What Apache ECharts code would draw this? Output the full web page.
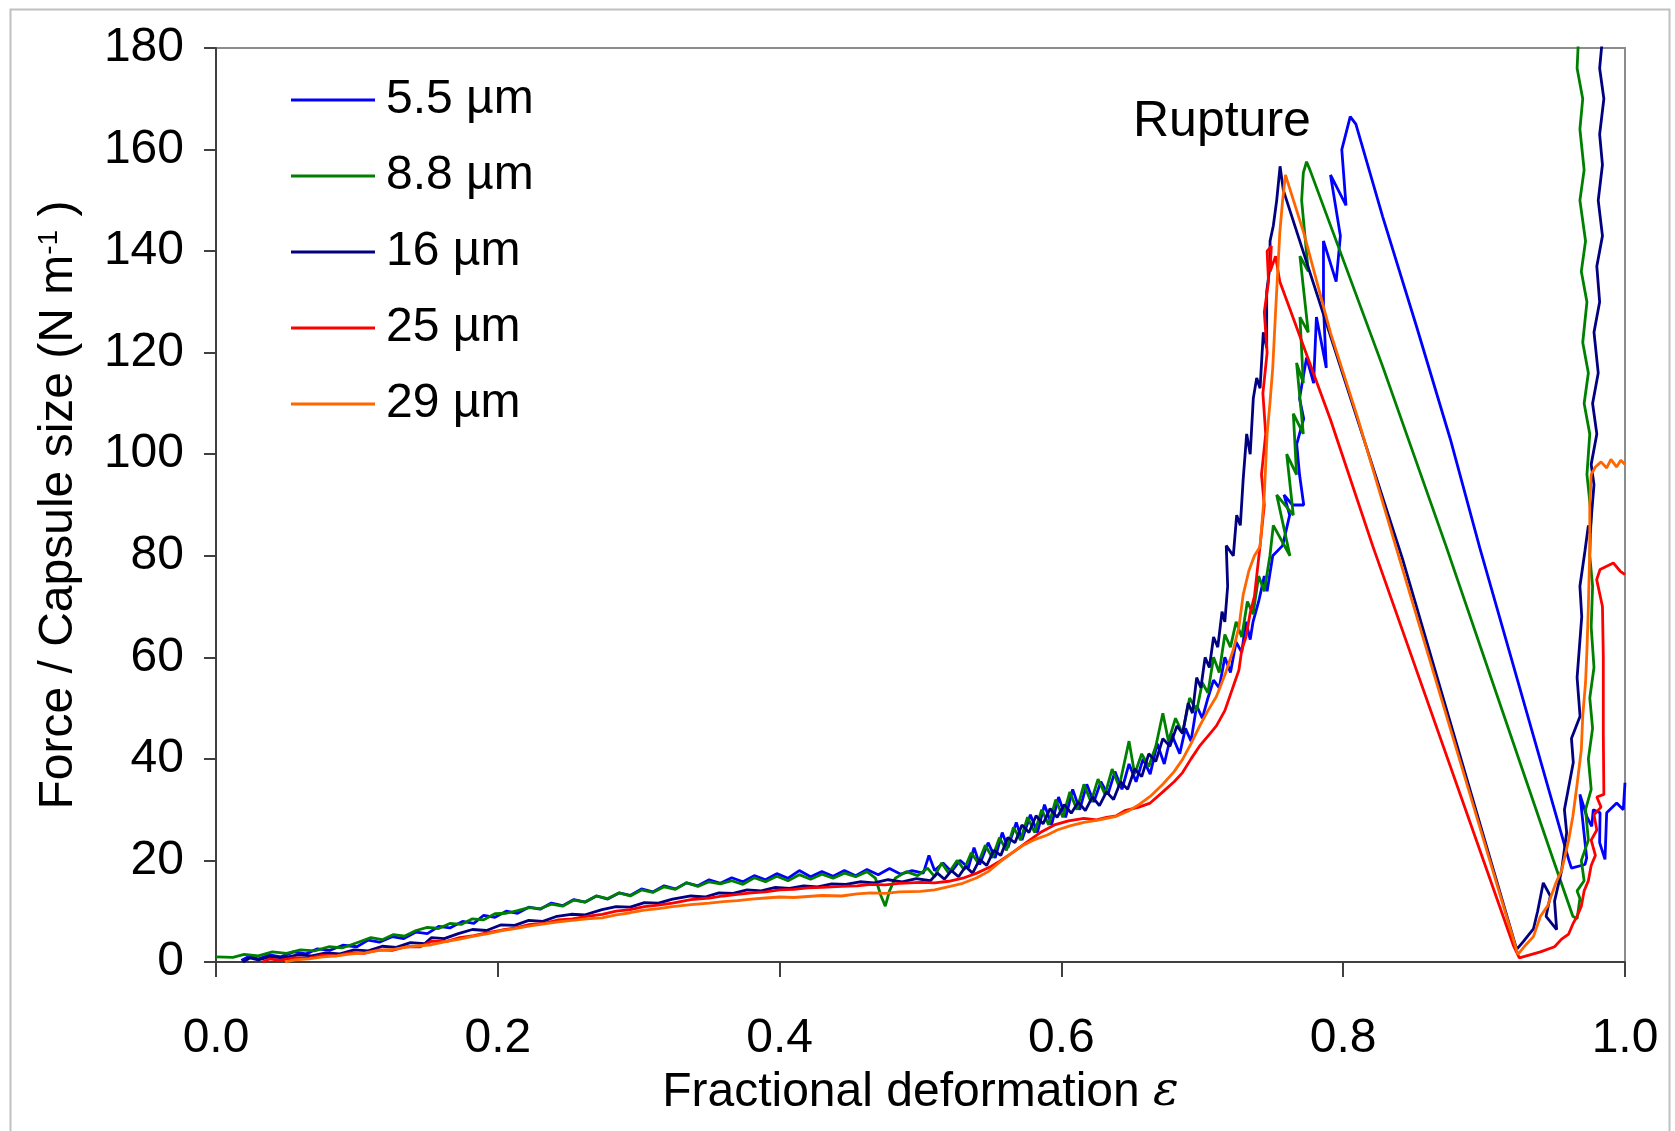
<!DOCTYPE html>
<html>
<head>
<meta charset="utf-8">
<script src="https://cdn.jsdelivr.net/npm/echarts@6/dist/echarts.min.js"></script>
<style>
html,body{margin:0;padding:0;background:#fff;}
#chart{width:1675px;height:1131px;}
</style>
</head>
<body>
<div id="chart"></div>
<script>
const seriesNames = ['5.5 µm', '8.8 µm', '16 µm', '25 µm', '29 µm'];
const seriesColors = ['#0000ff', '#008000', '#000080', '#ff0000', '#ff6600'];

const d55 = [
[0.018,0.3],[0.024,1.2],[0.03,0.6],[0.038,1.4],[0.046,1.0],[0.055,2.0],[0.064,1.6],[0.072,2.6],[0.081,2.3],[0.09,3.3],[0.1,3.0],[0.108,4.3],[0.116,3.9],[0.125,5.0],[0.133,4.6],[0.142,5.9],[0.15,5.6],[0.158,7.0],[0.166,6.7],[0.175,8.0],[0.183,7.6],[0.19,9.2],[0.198,8.8],[0.206,10.0],[0.214,9.6],[0.222,10.8],[0.23,10.4],[0.238,11.6],[0.246,11.1],[0.254,12.3],[0.262,11.8],[0.27,13.0],[0.278,12.4],[0.286,13.6],[0.294,13.1],[0.302,14.4],[0.31,13.8],[0.318,15.0],[0.326,14.4],[0.334,15.6],[0.342,15.0],[0.35,16.2],[0.358,15.5],[0.366,16.6],[0.374,15.8],[0.382,17.0],[0.39,16.2],[0.398,17.4],[0.406,16.5],[0.414,18.0],[0.422,16.8],[0.43,17.8],[0.438,16.9],[0.446,18.0],[0.454,17.0],[0.462,18.2],[0.47,17.2],[0.478,18.4],[0.486,17.3],[0.494,18.0],[0.502,17.5],[0.506,21],[0.51,18],[0.516,19.5],[0.522,17.8],[0.528,20],[0.534,18.6],[0.538,22.5],[0.542,19.2],[0.548,23.5],[0.553,20.5],[0.558,25.5],[0.562,22.5],[0.568,27.5],[0.572,24.0],[0.578,29.0],[0.583,25.5],[0.588,31.0],[0.593,27.0],[0.598,32.5],[0.603,28.5],[0.608,34.0],[0.613,30.0],[0.618,35.0],[0.623,31.5],[0.628,35.5],[0.633,33.0],[0.638,37.5],[0.643,34.0],[0.648,39.0],[0.653,35.5],[0.658,40.0],[0.663,37.0],[0.668,43.0],[0.673,39.0],[0.678,45.0],[0.684,41.0],[0.688,46.0],[0.692,43.5],[0.696,50.5],[0.7,48.0],[0.704,52.0],[0.708,55.5],[0.712,54.0],[0.716,60.0],[0.72,57.0],[0.724,63.0],[0.728,61.0],[0.731,67.0],[0.734,63.5],[0.736,67.0],[0.74,71],[0.744,76],[0.746,73],[0.75,80],[0.757,82],[0.762,88],[0.758,92],[0.764,90],[0.772,90],[0.769,96],[0.767,102],[0.772,107],[0.769,111],[0.774,119],[0.779,114],[0.781,127],[0.788,117],[0.786,129],[0.786,142],[0.795,134],[0.798,143],[0.791,155],[0.802,149],[0.799,160],[0.805,166.5],[0.809,165],[0.828,146.8],[0.852,125.2],[0.876,103],[0.897,81.5],[0.96,20.2],[0.962,18.5],[0.9716,19.2],[0.9728,20.5],[0.968,33],[0.9728,28.7],[0.9764,26.7],[0.9775,30],[0.9823,29.4],[0.982,23.5],[0.9858,20.2],[0.987,29.4],[0.9941,31.3],[0.9988,30],[1.0,35.3]
];

const d88 = [
[0,1.0],[0.012,0.9],[0.02,1.5],[0.03,1.2],[0.04,2.0],[0.05,1.7],[0.06,2.4],[0.07,2.2],[0.08,3.0],[0.09,2.8],[0.1,3.8],[0.11,4.8],[0.118,4.4],[0.126,5.4],[0.134,5.1],[0.142,6.2],[0.15,6.8],[0.158,6.6],[0.166,7.6],[0.174,7.4],[0.182,8.5],[0.19,8.3],[0.198,9.5],[0.206,9.6],[0.214,10.1],[0.222,10.7],[0.23,10.5],[0.238,11.4],[0.246,11.0],[0.254,12.2],[0.262,11.8],[0.27,13.0],[0.278,12.5],[0.286,13.6],[0.294,13.0],[0.302,14.2],[0.31,13.7],[0.318,14.8],[0.326,14.3],[0.334,15.6],[0.342,14.9],[0.35,15.8],[0.358,15.4],[0.366,16.0],[0.374,15.3],[0.382,16.6],[0.39,15.8],[0.398,16.9],[0.406,16.0],[0.414,17.2],[0.422,16.3],[0.43,17.3],[0.438,16.5],[0.446,17.5],[0.454,16.8],[0.462,17.8],[0.468,16.5],[0.472,13],[0.475,11],[0.478,14],[0.482,16.5],[0.49,17.8],[0.498,17.0],[0.505,18.5],[0.51,16.8],[0.515,19.5],[0.52,17.5],[0.526,20],[0.531,18.2],[0.536,21.5],[0.541,19.5],[0.546,23],[0.551,20.5],[0.556,24.5],[0.561,22],[0.566,26.5],[0.571,24],[0.576,28.5],[0.581,25.5],[0.586,30],[0.591,27],[0.596,32],[0.601,28.5],[0.606,33.5],[0.611,30],[0.616,35],[0.621,31.5],[0.626,36],[0.631,33],[0.636,38],[0.641,34.5],[0.648,43.5],[0.652,37],[0.657,41],[0.662,38.5],[0.667,42.5],[0.672,49],[0.676,43.5],[0.681,48],[0.686,45],[0.691,52],[0.696,49.5],[0.7,55],[0.704,53],[0.708,60],[0.712,57],[0.716,64.5],[0.72,62],[0.724,67],[0.728,64],[0.732,71],[0.736,68.5],[0.74,76],[0.744,73],[0.748,80],[0.7504,86],[0.7622,80],[0.7528,92],[0.7646,88],[0.7599,100],[0.7669,96],[0.7646,108],[0.7717,104],[0.7669,118],[0.7717,114],[0.7693,127],[0.7752,124],[0.7693,139],[0.7752,136],[0.7705,150],[0.7717,155.4],[0.774,157.6],[0.7764,156],[0.828,117.3],[0.873,81.9],[0.949,20.2],[0.963,9],[0.966,8.5],[0.968,12.5],[0.966,14],[0.971,16],[0.969,20],[0.974,24],[0.972,30],[0.976,34],[0.974,40],[0.977,46],[0.975,52],[0.978,58],[0.976,66],[0.977,74],[0.975,80],[0.976,88],[0.973,96],[0.975,104],[0.971,110],[0.974,116],[0.97,122],[0.973,130],[0.969,136],[0.972,142],[0.968,150],[0.971,156],[0.968,164],[0.97,170],[0.966,176],[0.967,182]
];

const d16 = [
[0.019,0],[0.024,0.8],[0.03,0.4],[0.038,1.0],[0.048,0.8],[0.058,1.4],[0.068,1.2],[0.078,1.8],[0.088,1.6],[0.098,2.4],[0.108,2.2],[0.118,3.1],[0.128,2.9],[0.138,3.8],[0.148,3.6],[0.153,4.8],[0.162,4.6],[0.172,5.6],[0.182,6.4],[0.192,6.2],[0.202,7.3],[0.212,7.2],[0.222,8.2],[0.232,8.0],[0.242,9.0],[0.252,9.4],[0.262,9.3],[0.274,10.3],[0.284,10.9],[0.294,10.8],[0.304,11.7],[0.314,11.6],[0.324,12.4],[0.337,13.0],[0.347,12.8],[0.357,13.6],[0.367,13.5],[0.377,14.2],[0.387,14.0],[0.397,14.7],[0.407,14.5],[0.417,15.0],[0.427,14.8],[0.437,15.4],[0.447,15.3],[0.457,15.8],[0.467,15.6],[0.477,16.2],[0.487,15.8],[0.497,16.4],[0.507,16.0],[0.512,17.5],[0.517,16.3],[0.522,18.0],[0.527,16.8],[0.532,18.8],[0.537,17.5],[0.542,20.2],[0.547,19.0],[0.552,22.0],[0.557,21.0],[0.562,24.5],[0.567,23.5],[0.572,27.0],[0.577,25.5],[0.582,28.8],[0.587,27.2],[0.592,30.2],[0.597,28.5],[0.602,31.0],[0.607,29.3],[0.612,31.5],[0.617,29.8],[0.622,32.5],[0.627,30.8],[0.632,33.5],[0.637,32.0],[0.642,35.5],[0.647,34.0],[0.652,38.0],[0.657,36.5],[0.662,41.0],[0.667,39.5],[0.672,44.0],[0.677,42.5],[0.682,46.5],[0.686,45.0],[0.69,51],[0.693,49],[0.696,56],[0.699,54],[0.702,60],[0.705,58],[0.708,64],[0.711,62],[0.714,69],[0.716,67],[0.718,74],[0.717,82],[0.722,80],[0.7244,88],[0.727,86],[0.729,95],[0.7315,104],[0.734,100],[0.7362,111],[0.7386,115],[0.741,113],[0.7433,124],[0.7457,121],[0.7457,132],[0.748,137],[0.7481,142],[0.7504,145],[0.7528,150],[0.7552,156.7],[0.7575,152],[0.842,79.5],[0.9231,2.5],[0.9278,4],[0.935,6.5],[0.938,10],[0.942,15.6],[0.947,13],[0.944,9],[0.9515,6.4],[0.95,12],[0.955,18],[0.9586,25.5],[0.957,30],[0.9633,39.3],[0.962,44],[0.9681,48.4],[0.966,56],[0.9693,68],[0.968,74],[0.9716,81],[0.974,86],[0.9752,84.5],[0.978,94],[0.976,98],[0.98,104],[0.977,110],[0.981,116],[0.978,124],[0.982,130],[0.98,137],[0.984,143],[0.981,150],[0.984,157],[0.982,163],[0.985,170],[0.982,176],[0.984,182]
];

const d25 = [
[0.033,0],[0.038,0.6],[0.045,0.3],[0.055,0.8],[0.065,0.7],[0.075,1.3],[0.085,1.2],[0.095,1.8],[0.105,1.7],[0.115,2.4],[0.125,2.3],[0.135,3.0],[0.145,3.0],[0.153,4.1],[0.163,4.0],[0.173,4.8],[0.183,5.2],[0.193,5.8],[0.203,6.3],[0.213,6.7],[0.223,7.4],[0.233,7.6],[0.243,8.3],[0.253,8.5],[0.263,9.0],[0.274,9.4],[0.284,10.0],[0.294,10.3],[0.304,10.9],[0.314,11.2],[0.324,11.6],[0.337,12.3],[0.35,12.6],[0.36,13.0],[0.37,13.3],[0.38,13.6],[0.39,13.8],[0.4,14.2],[0.41,14.3],[0.42,14.6],[0.43,14.7],[0.444,14.9],[0.455,15.0],[0.465,15.3],[0.475,15.2],[0.485,15.5],[0.5,15.7],[0.51,15.6],[0.52,15.9],[0.53,16.5],[0.54,17.5],[0.55,18.8],[0.556,19.8],[0.565,21.5],[0.575,23.5],[0.585,25.5],[0.595,27.0],[0.605,27.8],[0.616,28.3],[0.625,28.0],[0.632,28.5],[0.639,28.8],[0.645,29.8],[0.655,30.5],[0.663,31.3],[0.672,33.5],[0.68,35.5],[0.686,37.3],[0.692,40.0],[0.698,42.5],[0.704,44.5],[0.71,46.5],[0.716,49.5],[0.722,54.3],[0.726,57.5],[0.728,61.5],[0.731,64],[0.734,68.8],[0.737,72],[0.741,82],[0.744,90],[0.742,96],[0.745,104],[0.743,112],[0.746,120],[0.744,128],[0.747,134],[0.746,140],[0.749,141],[0.7481,136],[0.752,139],[0.755,134],[0.791,106.8],[0.821,81.9],[0.921,3.1],[0.925,0.8],[0.93,1.2],[0.94,2],[0.95,3],[0.955,4.5],[0.96,5.5],[0.963,7.5],[0.966,9],[0.969,11],[0.971,14],[0.974,16],[0.976,19],[0.979,21],[0.976,24],[0.98,26],[0.978,29],[0.983,30.5],[0.98,32.5],[0.985,33],[0.9846,45],[0.9846,60],[0.984,70],[0.9799,75.3],[0.9823,77.3],[0.9917,78.6],[0.9965,77],[1.0,76.3]
];

const d29 = [
[0.049,0],[0.056,0.4],[0.066,0.6],[0.076,1.0],[0.086,1.2],[0.096,1.6],[0.106,1.8],[0.116,2.3],[0.126,2.5],[0.136,3.0],[0.153,3.4],[0.163,4.0],[0.173,4.5],[0.183,5.1],[0.193,5.6],[0.203,6.2],[0.213,6.6],[0.223,7.1],[0.233,7.5],[0.243,7.9],[0.253,8.2],[0.263,8.5],[0.274,8.7],[0.284,9.3],[0.294,9.7],[0.304,10.2],[0.314,10.5],[0.324,10.9],[0.337,11.3],[0.35,11.6],[0.36,11.9],[0.37,12.1],[0.38,12.4],[0.39,12.6],[0.4,12.8],[0.41,12.7],[0.42,12.9],[0.43,13.1],[0.444,13.0],[0.455,13.4],[0.465,13.6],[0.475,13.5],[0.485,13.8],[0.5,13.9],[0.51,14.2],[0.521,14.9],[0.53,15.5],[0.54,16.6],[0.548,17.8],[0.556,19.6],[0.565,21.5],[0.573,23.0],[0.58,24.0],[0.59,25.0],[0.597,26.0],[0.606,26.8],[0.616,27.5],[0.627,28.0],[0.639,28.7],[0.648,29.8],[0.655,31.0],[0.663,32.6],[0.672,35.0],[0.68,37.5],[0.686,39.9],[0.692,43.0],[0.698,46.4],[0.704,49.5],[0.71,52.3],[0.716,56.5],[0.722,61.5],[0.726,66],[0.729,72.3],[0.733,77],[0.737,80],[0.741,81.8],[0.744,92],[0.746,104],[0.748,110],[0.75,117],[0.752,128],[0.755,143.6],[0.757,150],[0.759,155],[0.772,143.6],[0.791,123.9],[0.81,107.4],[0.838,81.2],[0.924,1.5],[0.93,3.5],[0.935,5],[0.94,9],[0.945,11],[0.951,15.6],[0.955,18],[0.96,24],[0.963,28.7],[0.966,35],[0.969,41.8],[0.97,48.4],[0.972,55],[0.973,61.5],[0.974,70],[0.975,81.2],[0.975,90],[0.976,96],[0.979,97.5],[0.983,98.5],[0.987,97.3],[0.99,99],[0.994,97.5],[0.997,98.8],[1.0,98]
];

const allData = [d55, d88, d16, d25, d29];
const annotationText = 'Rupture';

const FONT = '"Liberation Sans", Arial, sans-serif';
const chart = echarts.init(document.getElementById('chart'), null, {renderer: 'canvas'});

const option = {
  animation: false,
  backgroundColor: '#ffffff',
  grid: {left: 216, right: 50, top: 48, bottom: 169, show: true, borderColor: '#8c8c8c', borderWidth: 2, backgroundColor: 'transparent'},
  legend: {
    orient: 'vertical', left: 286, top: 71,
    itemWidth: 84, itemHeight: 3, itemGap: 28,
    icon: 'rect',
    data: seriesNames,
    textStyle: {fontSize: 48, fontFamily: FONT, color: '#000', lineHeight: 48, padding: [0, 0, 0, 6]}
  },
  xAxis: {
    type: 'value', min: 0, max: 1, interval: 0.2,
    name: 'Fractional deformation {e|ε}',
    nameLocation: 'middle', nameGap: 107,
    nameTextStyle: {fontSize: 48, fontFamily: FONT, color: '#000',
      rich: {e: {fontSize: 48, fontFamily: '"DejaVu Serif", "Liberation Serif", serif', fontStyle: 'italic', color: '#000'}}},
    axisLine: {show: true, onZero: false, lineStyle: {color: '#404040', width: 2}},
    axisTick: {show: true, length: 15, lineStyle: {color: '#404040', width: 2}},
    axisLabel: {fontSize: 48, fontFamily: FONT, color: '#000', margin: 53, formatter: v => v.toFixed(1)},
    splitLine: {show: false}
  },
  yAxis: {
    type: 'value', min: 0, max: 180, interval: 20,
    name: 'Force / Capsule size (N m{s|-1} )',
    nameLocation: 'middle', nameGap: 133, nameRotate: 90,
    nameTextStyle: {fontSize: 48, fontFamily: FONT, color: '#000',
      rich: {s: {fontSize: 28, fontFamily: FONT, color: '#000', verticalAlign: 'top'}}},
    axisLine: {show: true, onZero: false, lineStyle: {color: '#404040', width: 2}},
    axisTick: {show: true, length: 12, lineStyle: {color: '#404040', width: 2}},
    axisLabel: {fontSize: 48, fontFamily: FONT, color: '#000', margin: 32},
    splitLine: {show: false}
  },
  series: seriesNames.map((n, i) => ({
    name: n, type: 'line', data: allData[i],
    symbol: 'none', showSymbol: false, clip: true,
    color: seriesColors[i],
    lineStyle: {color: seriesColors[i], width: 2.8}
  })),
  graphic: [
    {type: 'rect', left: 8, top: 7, shape: {width: 1659, height: 1140}, style: {fill: 'none', stroke: '#c0c0c0', lineWidth: 2}, silent: true},
    {type: 'text', left: 1133, top: 97, style: {text: annotationText, fontSize: 50, fontFamily: FONT, fill: '#000'}}
  ]
};
chart.setOption(option);
</script>
</body>
</html>
